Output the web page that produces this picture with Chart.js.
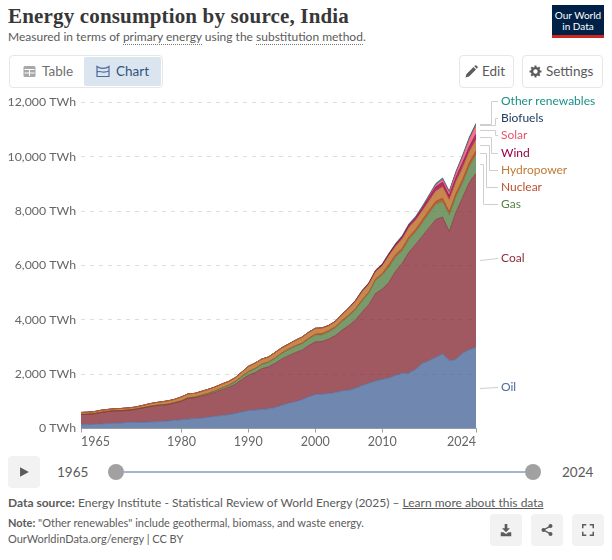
<!DOCTYPE html>
<html>
<head>
<meta charset="utf-8">
<script src="https://cdn.jsdelivr.net/npm/chart.js@4"></script>
<style>
  html, body { margin: 0; padding: 0; background: #fff; }
  body { width: 612px; height: 560px; position: relative; overflow: hidden; font-family: Lato, sans-serif; color: #5b5b5b; }
  .abs { position: absolute; white-space: nowrap; }
  #title { left: 8px; top: 4px; font: bold 21px "Liberation Serif", serif; color: #373737; letter-spacing: 0.17px; }
  #sub { left: 8px; top: 29px; font-size: 12px; color: #5b5b5b; }
  .dot { border-bottom: 1px dotted #777; }
  #logo { left: 552px; top: 5px; width: 52px; height: 33px; background: #002147; border-bottom: 3px solid #ce261e; box-sizing: border-box; color: #fff; font-size: 10px; line-height: 11px; text-align: center; padding-top: 5px; white-space: normal; }
  .btn { border: 1px solid #e7e7e7; border-radius: 4px; box-sizing: border-box; height: 33px; font-size: 13.5px; line-height: 31px; color: #5b5b5b; }
  #tabs { left: 9px; top: 55px; width: 154px; }
  #tabon { left: 84px; top: 57px; width: 77px; height: 29px; background: #dbe5f0; border-radius: 2px; }
  .lbl { font-size: 13.5px; line-height: 16px; }
  #cv { position: absolute; left: 0; top: 90px; }
  #play { left: 8px; top: 456px; width: 32px; height: 32px; background: #f2f2f2; border-radius: 4px; }
  #track { left: 124px; top: 471px; width: 401px; height: 2px; background: #a3b5cc; }
  .thumb { top: 464px; width: 16px; height: 16px; border-radius: 50%; background: #a1a1a1; }
  .foot { font-size: 12px; color: #5b5b5b; }
  .tool { top: 514px; width: 32px; height: 32px; background: #f2f2f2; border-radius: 4px; }
  .tool svg, #play svg { position: absolute; left: 9px; top: 9px; }
</style>
</head>
<body>
<div class="abs" id="title">Energy consumption by source, India</div>
<div class="abs" id="sub">Measured in terms of <span class="dot">primary energy</span> using the <span class="dot">substitution method</span>.</div>
<div class="abs" id="logo">Our World<br>in Data</div>

<div class="abs btn" id="tabs"></div>
<div class="abs" id="tabon"></div>
<svg class="abs" style="left:23px;top:65px" width="13" height="13" viewBox="0 0 13 13"><rect x="0.5" y="1" width="12" height="11" rx="1.5" fill="#a8a8a8"/><path d="M1.5 4.5h10M6.5 4.5v6.5M1.5 8h10" stroke="#fff" stroke-width="1"/></svg>
<div class="abs lbl" style="left:42px;top:63px;color:#6e6e6e">Table</div>
<svg class="abs" style="left:96px;top:65px" width="14" height="13" viewBox="0 0 14 13"><path d="M1 1.5c3 2.5 9 2.5 12 0v10H1zM1 7c3-2 5 2 12-1" fill="none" stroke="#4c6a9c" stroke-width="1.2"/></svg>
<div class="abs lbl" style="left:116px;top:63px;color:#31527e">Chart</div>

<div class="abs btn" style="left:459px;top:55px;width:55px"></div>
<svg class="abs" style="left:465px;top:65px" width="13" height="13" viewBox="0 0 13 13"><path d="M0.5 12.5l1-3.5 7-7 2.5 2.5-7 7zM9.3 1.2l0.8-0.7a1 1 0 0 1 1.3 0l1.1 1.1a1 1 0 0 1 0 1.3l-0.700 0.8z" fill="#5b5b5b"/></svg>
<div class="abs lbl" style="left:482px;top:63px">Edit</div>
<div class="abs btn" style="left:522px;top:55px;width:81px"></div>
<svg class="abs" style="left:529px;top:65px" width="13" height="13" viewBox="0 0 13 13"><circle cx="6.5" cy="6.5" r="3.4" fill="none" stroke="#5b5b5b" stroke-width="2.4"/><path d="M6.5 0.5v2.5M6.5 10v2.5M0.5 6.5h2.5M10 6.5h2.5M2.3 2.3l1.8 1.8M8.9 8.9l1.8 1.8M2.3 10.7l1.8-1.8M8.9 4.1l1.8-1.8" stroke="#5b5b5b" stroke-width="2"/></svg>
<div class="abs lbl" style="left:546px;top:63px">Settings</div>

<canvas id="cv" width="612" height="363"></canvas>

<div class="abs" id="play"><svg width="14" height="14" viewBox="0 0 16 16"><path d="M3.5 2.5l10 5.5-10 5.5z" fill="#5b5b5b"/></svg></div>
<div class="abs lbl" style="left:57px;top:464px">1965</div>
<div class="abs" id="track"></div>
<div class="abs thumb" style="left:108px"></div>
<div class="abs thumb" style="left:525px"></div>
<div class="abs lbl" style="left:562px;top:464px">2024</div>

<div class="abs foot" style="left:8px;top:495px"><b>Data source:</b> Energy Institute - Statistical Review of World Energy (2025) – <u>Learn more about this data</u></div>
<div class="abs foot" style="left:8px;top:516px;font-size:11px"><b>Note:</b> "Other renewables" include geothermal, biomass, and waste energy.</div>
<div class="abs foot" style="left:8px;top:532px;font-size:11px">OurWorldinData.org/energy | CC BY</div>

<div class="abs tool" style="left:490px"><svg width="14" height="14" viewBox="0 0 16 16"><path d="M6.5 1h3v5h3L8 10.5 3.500 6h3zM2 10.500h3l3 2 3-2h3V15H2z" fill="#5b5b5b"/></svg></div>
<div class="abs tool" style="left:531px"><svg width="14" height="14" viewBox="0 0 16 16"><circle cx="12" cy="3.500" r="2.300" fill="#5b5b5b"/><circle cx="12" cy="12.500" r="2.300" fill="#5b5b5b"/><circle cx="4" cy="8" r="2.300" fill="#5b5b5b"/><path d="M12 3.500L4 8l8 4.500" fill="none" stroke="#5b5b5b" stroke-width="1.500"/></svg></div>
<div class="abs tool" style="left:572px"><svg width="14" height="14" viewBox="0 0 16 16"><path d="M2 6V2h4M10 2h4v4M14 10v4h-4M6 14H2v-4" fill="none" stroke="#5b5b5b" stroke-width="1.700"/></svg></div>

<script>
// years and tick labels
var years = [];
for (var yr = 1965; yr <= 2024; yr++) years.push(yr);
var xTicks = [1965, 1980, 1990, 2000, 2010, 2024];
var yTicks = [0, 2000, 4000, 6000, 8000, 10000, 12000];

// values, TWh
var oil = [135,145,150,170,180,190,205,225,235,235,240,245,255,280,305,325,345,365,385,415,450,480,505,555,610,660,680,705,725,775,860,930,985,1060,1170,1250,1265,1290,1325,1390,1410,1480,1585,1670,1750,1810,1860,1960,2030,2040,2180,2400,2500,2620,2740,2500,2540,2770,2900,2990];
var coal = [380,380,395,420,445,460,445,445,465,510,550,585,605,600,635,675,765,765,805,835,880,940,1005,1065,1190,1300,1380,1495,1545,1625,1700,1750,1805,1820,1880,1940,1935,2000,2095,2230,2380,2510,2705,2890,3220,3320,3520,3830,4060,4450,4600,4680,4890,5070,5040,4750,5410,5730,6150,6400];
var gas = [3,3,3,4,4,5,5,6,6,7,8,9,10,11,13,15,18,22,28,36,45,55,68,85,100,120,135,150,165,180,200,215,225,230,235,240,245,260,280,310,340,370,400,420,480,510,560,520,450,470,450,490,530,560,570,600,570,530,590,680];
var nuclear = [0,0,0,0,3,4,4,7,6,6,7,9,6,7,8,8,8,6,9,11,12,13,14,14,13,16,17,19,16,15,22,24,28,32,36,42,46,50,48,46,46,48,44,40,45,62,90,90,95,95,100,105,105,110,120,120,125,130,140,150];
var hydro = [72,73,75,78,70,68,78,75,72,78,92,100,105,120,115,140,140,135,140,145,140,145,135,145,160,190,195,185,180,205,190,185,195,215,215,210,205,185,190,215,240,275,300,290,270,280,330,300,340,340,330,330,350,370,420,430,420,430,390,400];
var wind = [0,0,0,0,0,0,0,0,0,0,0,0,0,0,0,0,0,0,0,0,0,0,0,0,0,0,0,0,0,0,1,2,2,3,4,4,4,5,5,8,15,20,30,35,40,50,60,75,85,95,95,110,130,160,170,160,170,190,200,210];
var solar = [0,0,0,0,0,0,0,0,0,0,0,0,0,0,0,0,0,0,0,0,0,0,0,0,0,0,0,0,0,0,0,0,0,0,0,0,0,0,0,0,0,0,0,0,0,0,1,5,9,12,17,30,55,80,110,130,170,220,280,330];
var biofuels = [0,0,0,0,0,0,0,0,0,0,0,0,0,0,0,0,0,0,0,0,0,0,0,0,0,0,0,0,0,0,0,0,0,0,0,0,0,0,1,1,1,1,1,1,1,1,2,2,3,3,4,5,5,8,10,10,12,18,25,30];
var otherRen = [0,0,0,0,0,0,0,0,0,0,0,0,0,0,0,0,0,0,0,0,0,0,0,0,0,1,1,1,2,2,3,3,4,4,5,6,7,8,9,10,12,14,18,20,22,25,28,30,32,32,35,35,35,38,40,38,38,40,40,40];

var seriesNames = ['Oil','Coal','Gas','Nuclear','Hydropower','Wind','Solar','Biofuels','Other renewables'];
var seriesData = [oil, coal, gas, nuclear, hydro, wind, solar, biofuels, otherRen];
var seriesColors = ['#4c6a9c','#883039','#578145','#b13507','#b86a22','#970046','#e5566e','#1d3d63','#00847e'];
var labelColors = ['#4c6a9c','#883039','#578145','#b9502f','#c07a35','#970046','#e5566e','#1d3d63','#1a9088'];

// end label placement, same order as seriesNames
var labelY = [387, 258, 204, 187, 170, 153, 135, 118, 101];
var elbowX = [null, null, 483, 486, 489, 491, 495, 495, 491];

function hexA(hex, a) {
  var n = parseInt(hex.slice(1), 16);
  return 'rgba(' + (n >> 16) + ',' + ((n >> 8) & 255) + ',' + (n & 255) + ',' + a + ')';
}

var endLabels = {
  id: 'endLabels',
  afterDraw: function (chart) {
    var c = chart.ctx, y = chart.scales.y, top = 90;
    var sum = 0;
    c.save();
    c.font = '12px Lato';
    c.textBaseline = 'middle';
    seriesNames.forEach(function (name, i) {
      var last = seriesData[i][seriesData[i].length - 1];
      var from = Math.round(y.getPixelForValue(sum + last / 2)) + 0.5;
      var to = labelY[i] - top + 0.5;
      sum += last;
      c.strokeStyle = '#cfcfcf';
      c.lineWidth = 1;
      c.beginPath();
      c.moveTo(480, from);
      if (elbowX[i]) { c.lineTo(elbowX[i] + 0.5, from); c.lineTo(elbowX[i] + 0.5, to); }
      c.lineTo(498, to);
      c.stroke();
      c.fillStyle = labelColors[i];
      c.fillText(name, 501, to);
    });
    c.restore();
  }
};

new Chart(document.getElementById('cv').getContext('2d'), {
  type: 'line',
  data: {
    datasets: seriesNames.map(function (name, i) {
      return {
        label: name,
        data: years.map(function (yr, j) { return { x: yr, y: seriesData[i][j] }; }),
        borderColor: seriesColors[i],
        backgroundColor: hexA(seriesColors[i], 0.8),
        borderWidth: 0.7,
        pointRadius: 0,
        tension: 0,
        fill: i === 0 ? 'origin' : '-1'
      };
    })
  },
  plugins: [endLabels],
  options: {
    responsive: false,
    animation: false,
    layout: { padding: { left: 0, right: 136, top: 10.5, bottom: 0 } },
    plugins: { legend: { display: false }, tooltip: { enabled: false } },
    scales: {
      x: {
        type: 'linear', min: 1965, max: 2024,
        afterBuildTicks: function (ax) { ax.ticks = xTicks.map(function (v) { return { value: v }; }); },
        afterFit: function (ax) { ax.height = 24.5; },
        grid: { drawOnChartArea: false, drawTicks: true, tickLength: 4, color: '#a1a1a1' },
        border: { color: '#a1a1a1' },
        ticks: { color: '#666', font: { family: 'Lato', size: 12.5 }, align: 'inner', maxRotation: 0, padding: 2,
          callback: function (v) { return String(v); } }
      },
      y: {
        stacked: true, min: 0, max: 12000,
        afterBuildTicks: function (ax) { ax.ticks = yTicks.map(function (v) { return { value: v }; }); },
        afterFit: function (ax) { ax.width = 81; },
        grid: { color: '#dddddd', drawTicks: false },
        border: { display: false, dash: [4, 5] },
        ticks: { color: '#666', font: { family: 'Lato', size: 12.3 }, padding: 5,
          callback: function (v) { return v.toLocaleString('en-US') + ' TWh'; } }
      }
    }
  }
});
</script>
</body>
</html>
